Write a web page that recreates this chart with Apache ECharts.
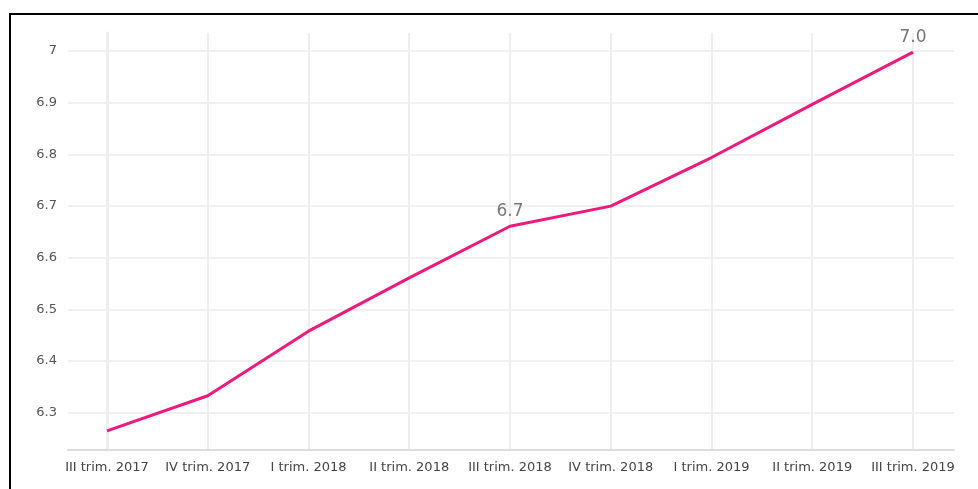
<!DOCTYPE html>
<html>
<head>
<meta charset="utf-8">
<script src="https://cdn.jsdelivr.net/npm/echarts@6/dist/echarts.min.js"></script>
<style>
html,body{margin:0;padding:0;background:#fff;}
#chart{width:978px;height:489px;}
</style>
</head>
<body>
<div id="chart"></div>
<script>
var categories = ['III trim. 2017','IV trim. 2017','I trim. 2018','II trim. 2018','III trim. 2018','IV trim. 2018','I trim. 2019','II trim. 2019','III trim. 2019'];
var values = [6.265, 6.333, 6.458, 6.561, 6.661, 6.70, 6.794, 6.897, 6.998];
var labelledIndices = [4, 8];

var chart = echarts.init(document.getElementById('chart'));
var seriesData = values.map(function (v, i) { return [i, v]; });

chart.setOption({
  animation: false,
  backgroundColor: '#ffffff',
  textStyle: { fontFamily: 'DejaVu Sans' },
  grid: { left: 68, right: 24, top: 33, bottom: 39, containLabel: false },
  graphic: [
    { type: 'line', shape: { x1: 9, y1: 14, x2: 978, y2: 14 }, style: { stroke: '#000', lineWidth: 2 } },
    { type: 'line', shape: { x1: 10, y1: 13, x2: 10, y2: 489 }, style: { stroke: '#000', lineWidth: 2 } }
  ],
  xAxis: {
    type: 'value',
    min: -0.387,
    max: 8.407,
    minInterval: 1,
    maxInterval: 1,
    axisLine: { show: true, lineStyle: { color: '#dddddd', width: 2 } },
    axisTick: { show: false },
    axisLabel: {
      showMinLabel: false,
      showMaxLabel: false,
      color: '#444',
      fontSize: 13,
      margin: 11,
      formatter: function (v) {
        return (Math.abs(v - Math.round(v)) < 1e-6 && categories[Math.round(v)] !== undefined) ? categories[Math.round(v)] : '';
      }
    },
    splitLine: { show: true, showMinLine: false, showMaxLine: false, lineStyle: { color: '#eeeeee', width: 2 } }
  },
  yAxis: {
    type: 'value',
    min: 6.228,
    max: 7.035,
    minInterval: 0.1,
    maxInterval: 0.1,
    axisLine: { show: true, lineStyle: { color: '#eeeeee', width: 3 } },
    axisTick: { show: false },
    axisLabel: {
      showMinLabel: false,
      showMaxLabel: false,
      color: '#555',
      fontSize: 13,
      margin: 11,
      formatter: function (v) { return String(Math.round(v * 10) / 10); }
    },
    splitLine: { show: true, showMinLine: false, showMaxLine: false, lineStyle: { color: '#f0f0f0', width: 2 } }
  },
  series: [{
    type: 'line',
    data: seriesData,
    symbol: 'circle',
    symbolSize: 0,
    showSymbol: true,
    lineStyle: { color: '#ec1a7b', width: 3 },
    itemStyle: { color: '#ec1a7b' },
    label: {
      show: true,
      position: 'top',
      distance: 6,
      color: '#777',
      fontSize: 17,
      formatter: function (p) {
        return labelledIndices.indexOf(p.dataIndex) >= 0 ? p.value[1].toFixed(1) : '';
      }
    }
  }]
});
</script>
</body>
</html>
